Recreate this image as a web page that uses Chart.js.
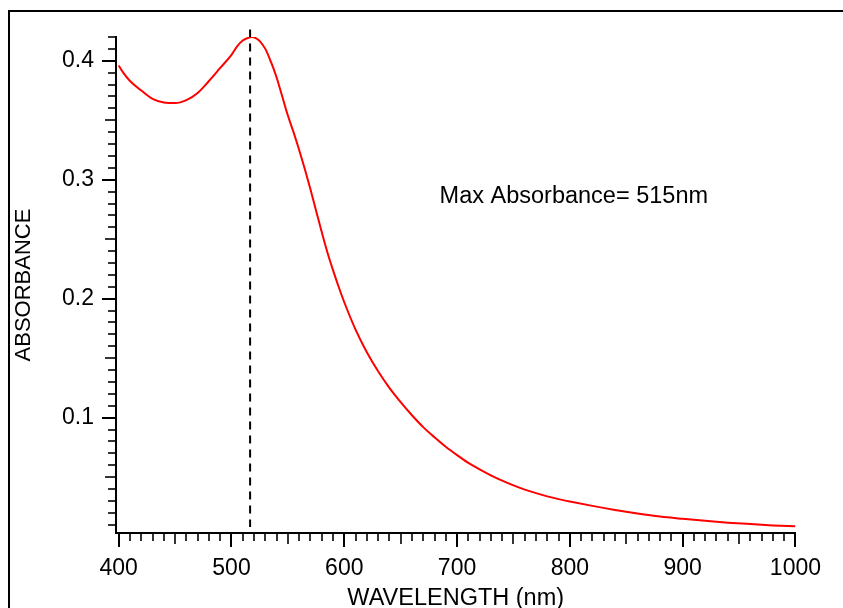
<!DOCTYPE html>
<html>
<head>
<meta charset="utf-8">
<script src="https://cdn.jsdelivr.net/npm/chart.js@4/dist/chart.umd.min.js"></script>
<style>
  html, body { margin: 0; padding: 0; background: #fff; }
  canvas { display: block; }
</style>
</head>
<body>
<canvas id="c" width="843" height="608"></canvas>
<script>
// ---- data ----
const WAVELENGTH = [400, 404, 410, 420, 430, 440, 450, 460, 470, 480, 490, 500, 505, 510, 515, 518, 521, 525, 530, 535, 540, 545, 550, 555, 560, 565, 570, 575, 580, 585, 590, 595, 600, 610, 620, 630, 640, 650, 660, 670, 680, 690, 700, 710, 720, 730, 740, 750, 760, 770, 780, 790, 800, 820, 840, 860, 880, 900, 920, 940, 960, 980, 1000];
const ABSORBANCE = [0.396, 0.390, 0.383, 0.375, 0.368, 0.365, 0.3645, 0.367, 0.373, 0.383, 0.394, 0.405, 0.4122, 0.417, 0.4194, 0.4200, 0.4193, 0.4165, 0.410, 0.399, 0.386, 0.370, 0.354, 0.340, 0.325, 0.309, 0.292, 0.274, 0.256, 0.239, 0.224, 0.210, 0.197, 0.174, 0.155, 0.139, 0.125, 0.113, 0.102, 0.092, 0.0835, 0.0755, 0.0685, 0.062, 0.0565, 0.0515, 0.047, 0.043, 0.0395, 0.0365, 0.0338, 0.0315, 0.0295, 0.0258, 0.0224, 0.0194, 0.0168, 0.0149, 0.0132, 0.0117, 0.0105, 0.0094, 0.0086];
const X_TICKS = [400, 500, 600, 700, 800, 900, 1000];
const Y_TICKS = [0.1, 0.2, 0.3, 0.4];
const PEAK_NM = 516.5;
const PEAK_LINE_RANGE = [0.4263, 0.008];
const ANNOTATION_TEXT = 'Max Absorbance= 515nm';
const ANNOTATION_POS = [684.5, 0.286];
const X_TITLE = 'WAVELENGTH (nm)';
const Y_TITLE = 'ABSORBANCE';

const FONT = "'Liberation Sans', Arial, Helvetica, sans-serif";

const decor = {
  id: 'decor',
  afterDraw(chart) {
    const ctx = chart.ctx;
    const xs = chart.scales.x, ys = chart.scales.y;
    ctx.save();
    // outer frame (top + left)
    ctx.strokeStyle = '#000';
    ctx.lineWidth = 2;
    ctx.beginPath();
    ctx.moveTo(9, 608);
    ctx.lineTo(9, 11);
    ctx.lineTo(843, 11);
    ctx.stroke();

    // x ticks every 10 nm (major 100, medium 50)
    const xb = ys.bottom;
    for (let v = 400; v <= 1000; v += 10) {
      const len = v % 100 === 0 ? 14 : (v % 50 === 0 ? 11 : 8);
      const px = Math.round(xs.getPixelForValue(v));
      ctx.lineWidth = v % 100 === 0 ? 2 : 1.6;
      ctx.beginPath();
      ctx.moveTo(px, xb);
      ctx.lineTo(px, xb + len);
      ctx.stroke();
    }
    // y ticks every 0.01 (major 0.1, medium 0.05)
    const yl = xs.left;
    for (let i = 1; i <= 42; i++) {
      const v = i / 100;
      const len = i % 10 === 0 ? 14 : (i % 5 === 0 ? 11 : 8);
      const py = Math.round(ys.getPixelForValue(v));
      ctx.lineWidth = i % 10 === 0 ? 2 : 1.6;
      ctx.beginPath();
      ctx.moveTo(yl - len, py);
      ctx.lineTo(yl, py);
      ctx.stroke();
    }

    // annotation
    ctx.fillStyle = '#000';
    ctx.font = '23.5px ' + FONT;
    ctx.textAlign = 'left';
    ctx.textBaseline = 'middle';
    ctx.fillText(ANNOTATION_TEXT, xs.getPixelForValue(ANNOTATION_POS[0]), ys.getPixelForValue(ANNOTATION_POS[1]));
    ctx.restore();
  }
};

new Chart(document.getElementById('c'), {
  type: 'line',
  data: {
    datasets: [
      {
        data: WAVELENGTH.map((w, i) => ({ x: w, y: ABSORBANCE[i] })),
        borderColor: '#ff0000',
        borderWidth: 2,
        pointRadius: 0,
        cubicInterpolationMode: 'monotone',
        fill: false
      },
      {
        data: PEAK_LINE_RANGE.map(a => ({ x: PEAK_NM, y: a })),
        borderColor: '#000',
        borderWidth: 2,
        borderDash: [8, 6],
        pointRadius: 0,
        clip: false,
        fill: false
      }
    ]
  },
  options: {
    responsive: false,
    animation: false,
    devicePixelRatio: 1,
    layout: { padding: { top: 37, right: 45, left: 0, bottom: 0 } },
    plugins: { legend: { display: false }, tooltip: { enabled: false } },
    scales: {
      x: {
        type: 'linear',
        min: 397.6,
        max: 1000,
        grid: { display: false, drawTicks: false },
        border: { display: true, color: '#000', width: 2 },
        afterBuildTicks: s => { s.ticks = X_TICKS.map(v => ({ value: v })); },
        afterFit: s => { s.height = 75; },
        ticks: {
          autoSkip: false,
          maxRotation: 0,
          padding: 22,
          color: '#000',
          font: { family: FONT, size: 23 },
          callback: v => String(v)
        },
        title: {
          display: true,
          text: X_TITLE,
          color: '#000',
          font: { family: FONT, size: 23.5, lineHeight: 1 },
          padding: { top: 0, bottom: -2 }
        }
      },
      y: {
        type: 'linear',
        min: 0.003,
        max: 0.42,
        grid: { display: false, drawTicks: false },
        border: { display: true, color: '#000', width: 2 },
        afterBuildTicks: s => { s.ticks = Y_TICKS.map(v => ({ value: v })); },
        afterFit: s => { s.width = 116; },
        ticks: {
          padding: 22,
          color: '#000',
          font: { family: FONT, size: 23 },
          callback: v => Number(v).toFixed(1)
        },
        title: {
          display: true,
          text: Y_TITLE,
          color: '#000',
          font: { family: FONT, size: 22, lineHeight: 1 },
          padding: { top: 13, bottom: 0 }
        }
      }
    }
  },
  plugins: [decor]
});
</script>
</body>
</html>
